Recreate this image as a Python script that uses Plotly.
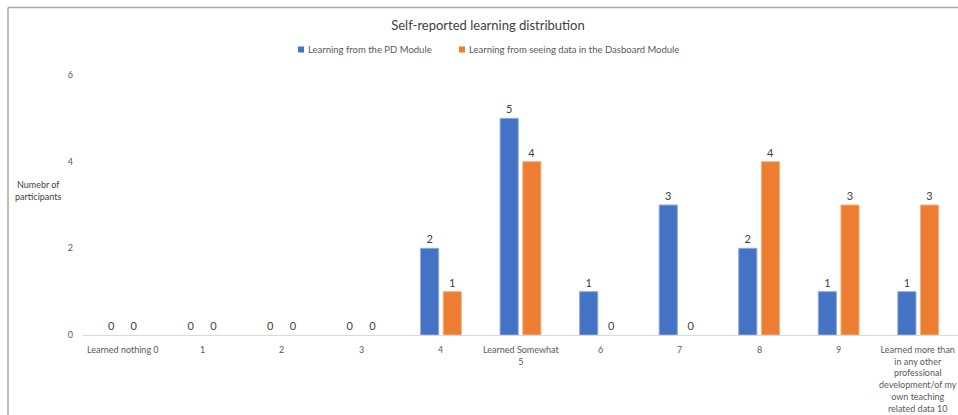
import plotly.graph_objects as go

categories = [
    "Learned nothing 0", "1", "2", "3", "4", "Learned Somewhat<br>5", "6", "7", "8", "9",
    "Learned more than<br>in any other<br>professional<br>development/of my<br>own teaching<br>related data 10",
]
pd_module = [0, 0, 0, 0, 2, 5, 1, 3, 2, 1, 1]
dashboard_module = [0, 0, 0, 0, 1, 4, 0, 0, 4, 3, 3]
series_names = ["Learning from the PD Module", "Learning from seeing data in the Dasboard Module"]
series_colors = ["#4472C4", "#ED7D31"]
outline_colors = ["#8FAADC", "#F4B183"]
y_ticks = [0, 2, 4, 6]

FONT = "Lato"
W, H = 958, 415
ml, mr, mt, mb = 83, 0, 75, 80
pw = W - ml - mr
ph = H - mt - mb


def px_x(p):
    return (p - ml) / pw


def px_y(p):
    return (H - mb - p) / ph


xs = list(range(len(categories)))
fig = go.Figure()
for vals, name, col, ocol in zip([pd_module, dashboard_module], series_names, series_colors, outline_colors):
    fig.add_trace(go.Bar(
        x=xs, y=vals, name=name, showlegend=False,
        marker=dict(color=col, line=dict(color=ocol, width=[0 if v == 0 else 1 for v in vals])),
        text=vals, textposition="outside", cliponaxis=False,
        textfont=dict(family=FONT, size=11, color="#404040"),
    ))

annotations = [dict(
    text="Numebr of<br>participants", xref="paper", yref="paper",
    x=px_x(38), y=px_y(190), xanchor="center", yanchor="middle",
    showarrow=False, font=dict(family=FONT, size=9, color="#404040"),
)]
for i, lab in enumerate(categories):
    annotations.append(dict(
        text=lab, xref="x", yref="paper", x=i, y=px_y(342),
        xanchor="center", yanchor="top", showarrow=False, align="center",
        font=dict(family=FONT, size=9, color="#595959"),
    ))

shapes = [
    dict(type="line", xref="paper", yref="paper", x0=px_x(8), x1=px_x(958),
         y0=px_y(7.5), y1=px_y(7.5), line=dict(color="#A6A6A6", width=1.5)),
    dict(type="line", xref="paper", yref="paper", x0=px_x(8), x1=px_x(8),
         y0=px_y(7.5), y1=px_y(415), line=dict(color="#A6A6A6", width=1.5)),
]
# custom legend (small squares like the original)
legend_sq_x = [298, 459]
for sx, name, col in zip(legend_sq_x, series_names, series_colors):
    shapes.append(dict(type="rect", xref="paper", yref="paper",
                       x0=px_x(sx), x1=px_x(sx + 6), y0=px_y(46.5), y1=px_y(52.5),
                       fillcolor=col, line=dict(width=0)))
    annotations.append(dict(
        text=name, xref="paper", yref="paper", x=px_x(sx + 7.5), y=px_y(49.5),
        xanchor="left", yanchor="middle", showarrow=False,
        font=dict(family=FONT, size=9.5, color="#595959"),
    ))

fig.update_layout(
    width=W, height=H,
    margin=dict(l=ml, r=mr, t=mt, b=mb, autoexpand=False),
    paper_bgcolor="white", plot_bgcolor="white",
    barmode="group", bargap=0.43, bargroupgap=0.2,
    font=dict(family=FONT, color="#595959"),
    showlegend=False,
    title=dict(text="Self-reported learning distribution", x=488 / W, xanchor="center",
               y=1 - 25 / H, yanchor="middle",
               font=dict(family=FONT, size=13, color="#404040")),
    xaxis=dict(
        tickmode="array", tickvals=xs, showticklabels=False,
        range=[-0.5, len(categories) - 0.5],
        showline=True, linecolor="#D9D9D9", linewidth=1,
        showgrid=False, zeroline=False, ticks="",
    ),
    yaxis=dict(
        range=[0, 6], tickmode="array", tickvals=y_ticks,
        showgrid=False, zeroline=False, showline=False, ticks="",
        tickfont=dict(family=FONT, size=9, color="#595959"),
        ticklabelstandoff=9,
    ),
    annotations=annotations,
    shapes=shapes,
)

fig.write_html(
    "out.html",
    config={"displayModeBar": False},
    post_script="document.body.style.margin='0';document.body.style.overflow='hidden';",
)
